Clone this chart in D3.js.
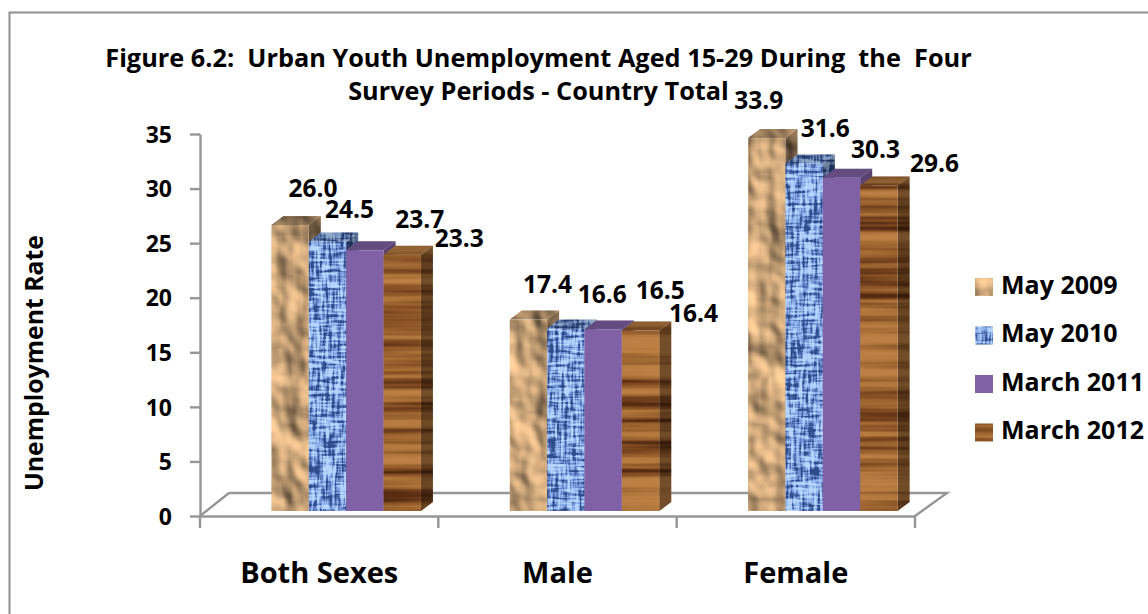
<!DOCTYPE html>
<html>
<head>
<meta charset="utf-8">
<script src="https://cdn.jsdelivr.net/npm/d3@7/dist/d3.min.js"></script>
<style>
html,body{margin:0;padding:0;background:#fff;overflow:hidden}
svg{display:block}
text{font-family:"Open Sans","Noto Sans",sans-serif;font-weight:700;fill:#000;white-space:pre}
</style>
</head>
<body>
<svg id="c" width="1148" height="614"></svg>
<script>
// ---- data ----
const categories = ["Both Sexes", "Male", "Female"];
const seriesNames = ["May 2009", "May 2010", "March 2011", "March 2012"];
const may2009 = [26.0, 17.4, 33.9];
const may2010 = [24.5, 16.6, 31.6];
const march2011 = [23.7, 16.5, 30.3];
const march2012 = [23.3, 16.4, 29.6];
const yTicks = [0, 5, 10, 15, 20, 25, 30, 35];
const titleLines = ["Figure 6.2:  Urban Youth Unemployment Aged 15-29 During  the  Four", "Survey Periods - Country Total"];
const yTitle = "Unemployment Rate";
const seriesValues = [may2009, may2010, march2011, march2012];

// ---- layout ----
const textures = ["paper", "mesh", "flat", "wood"];
// hand-placed data labels in the original: offset from bar centre / front top
const labelDx = [[23,22,55,57],[19,36.5,57,53],[-8,21,34,55.5]];
const labelDy = [[-28,-23.5,-22,-8],[-26.6,-25,-30.5,-8.6],[-29,-26,-20,-13]];
const depthX = 12, depthY = 9;

const svg = d3.select("#c");
const defs = svg.append("defs");

function baseFilter(id){
  return defs.append("filter").attr("id", id)
    .attr("x", 0).attr("y", 0).attr("width", "100%").attr("height", "100%")
    .attr("color-interpolation-filters", "sRGB");
}
// crumpled paper
{
  const f = baseFilter("paper");
  f.append("feTurbulence").attr("type","fractalNoise").attr("baseFrequency","0.024 0.02")
    .attr("numOctaves",3).attr("seed",23).attr("result","n");
  const l = f.append("feDiffuseLighting").attr("in","n").attr("surfaceScale",8)
    .attr("diffuseConstant",1.2).attr("lighting-color","#dfb585").attr("result","l");
  l.append("feDistantLight").attr("azimuth",135).attr("elevation",50);
  f.append("feComposite").attr("in","l").attr("in2","SourceAlpha").attr("operator","in");
}
// blue woven mesh: horizontal and vertical threads laid over each other
{
  const f = baseFilter("mesh");
  f.append("feTurbulence").attr("type","fractalNoise").attr("baseFrequency","0.05 0.34")
    .attr("numOctaves",2).attr("seed",4).attr("result","h");
  f.append("feTurbulence").attr("type","fractalNoise").attr("baseFrequency","0.34 0.05")
    .attr("numOctaves",2).attr("seed",9).attr("result","v");
  f.append("feComposite").attr("in","h").attr("in2","v").attr("operator","arithmetic")
    .attr("k1",0).attr("k2",0.5).attr("k3",0.5).attr("k4",0);
  f.append("feColorMatrix").attr("type","matrix")
    .attr("values","4.2 0 0 0 -1.6  4.2 0 0 0 -1.6  4.2 0 0 0 -1.6  0 0 0 0 1");
  const t = f.append("feComponentTransfer").attr("result","c");
  t.append("feFuncR").attr("type","table").attr("tableValues","0.18 0.34 0.50 0.62 0.72");
  t.append("feFuncG").attr("type","table").attr("tableValues","0.30 0.46 0.63 0.76 0.84");
  t.append("feFuncB").attr("type","table").attr("tableValues","0.54 0.72 0.88 0.96 1.0");
  f.append("feComposite").attr("in","c").attr("in2","SourceAlpha").attr("operator","in");
}
// wood grain
{
  const f = baseFilter("wood");
  f.append("feTurbulence").attr("type","fractalNoise").attr("baseFrequency","0.002 0.09")
    .attr("numOctaves",3).attr("seed",11);
  f.append("feColorMatrix").attr("type","matrix")
    .attr("values","2.2 0 0 0 -0.6  2.2 0 0 0 -0.6  2.2 0 0 0 -0.6  0 0 0 0 1");
  const t = f.append("feComponentTransfer").attr("result","c");
  t.append("feFuncR").attr("type","table").attr("tableValues","0.34 0.50 0.60 0.70 0.74");
  t.append("feFuncG").attr("type","table").attr("tableValues","0.17 0.29 0.38 0.47 0.50");
  t.append("feFuncB").attr("type","table").attr("tableValues","0.07 0.13 0.18 0.24 0.27");
  f.append("feComposite").attr("in","c").attr("in2","SourceAlpha").attr("operator","in");
}

// outer frame (runs off the picture to the right and bottom)
svg.append("path").attr("d", d3.line()([[1148,12.5],[9.5,12.5],[9.5,614]]))
  .attr("fill","none").attr("stroke","#8f8f8f").attr("stroke-width",2);

// ---- scales ----
const yAxisScale = d3.scaleLinear().domain([0,35]).range([516,134]);
const yBar = d3.scaleLinear().domain([0,35]).range([511,126]);
const xCat = d3.scaleBand().domain(categories).range([200,915]);
const xBarGroup = d3.scaleBand().domain(categories).range([227,942]);
const xSeries = d3.scaleBand().domain(seriesNames).range([0,149.5]);
const groupInset = (xBarGroup.bandwidth() - xSeries.range()[1]) / 2;
const axisColor = "#969696";

// floor
const floorD = 23, floorL = 29, floorR = 32;
const y0 = yAxisScale(0);
svg.append("path")
  .attr("d", d3.line()([[xCat.range()[0],y0],[xCat.range()[0]+floorL,y0-floorD],[xCat.range()[1]+floorR,y0-floorD],[xCat.range()[1],y0]]))
  .attr("fill","none").attr("stroke",axisColor).attr("stroke-width",2.4);

// y axis
const gy = svg.append("g").attr("transform","translate(200,0)")
  .call(d3.axisLeft(yAxisScale).tickValues(yTicks).tickSize(10).tickPadding(18).tickSizeOuter(0));
gy.attr("font-family",null);
gy.selectAll("path,line").attr("stroke",axisColor).attr("stroke-width",2.4);
gy.selectAll("text").attr("font-size",23).attr("dy","0.36em");

// x axis
const gx = svg.append("g").attr("transform",`translate(0,${y0})`)
  .call(d3.axisBottom(xCat).tickSize(0).tickSizeOuter(0).tickPadding(57));
gx.attr("font-family",null);
gx.select("path").attr("stroke",axisColor).attr("stroke-width",2.4);
gx.selectAll("text").attr("font-size",29).attr("dy","0.36em").attr("dx",0);
const edges = xCat.domain().map(c => xCat(c)).concat([xCat.range()[1]]);
gx.selectAll("line.edge").data(edges).join("line").attr("class","edge")
  .attr("x1",d=>d).attr("x2",d=>d).attr("y1",0).attr("y2",12)
  .attr("stroke",axisColor).attr("stroke-width",2.4);

// ---- bars ----
function fillFor(s){ return textures[s]==="flat" ? "#8161a5" : "#999"; }
function filterFor(s){ return textures[s]==="flat" ? null : `url(#${textures[s]})`; }

const faces = svg.append("g");
categories.forEach((cat, c) => {
  seriesNames.forEach((name, s) => {
    const v = seriesValues[s][c];
    const x = xBarGroup(cat) + groupInset + xSeries(name);
    const w = xSeries.bandwidth();
    const top = yBar(v), base = yBar(0);
    const g = faces.append("g");
    const topPts = [[x,top],[x+depthX,top-depthY],[x+w+depthX,top-depthY],[x+w,top]];
    const sidePts = [[x+w,top],[x+w+depthX,top-depthY],[x+w+depthX,base-depthY],[x+w,base]];
    const line = d3.line().curve(d3.curveLinearClosed);
    // right face
    g.append("path").attr("d",line(sidePts)).attr("fill",fillFor(s)).attr("filter",filterFor(s));
    g.append("path").attr("d",line(sidePts)).attr("fill","#000").attr("opacity",textures[s]==="flat"?0.3:0.38);
    // top face
    g.append("path").attr("d",line(topPts)).attr("fill",fillFor(s)).attr("filter",filterFor(s));
    g.append("path").attr("d",line(topPts)).attr("fill","#000").attr("opacity",0.22);
    // front face
    g.append("rect").attr("x",x).attr("y",top).attr("width",w).attr("height",base-top)
      .attr("fill",fillFor(s)).attr("filter",filterFor(s));
  });
});

// data labels
categories.forEach((cat, c) => {
  seriesNames.forEach((name, s) => {
    const v = seriesValues[s][c];
    const cx = xBarGroup(cat) + groupInset + xSeries(name) + xSeries.bandwidth()/2;
    svg.append("text").attr("x",cx+labelDx[c][s]).attr("y",yBar(v)+labelDy[c][s])
      .attr("text-anchor","middle").attr("font-size",24.5).text(v.toFixed(1));
  });
});

// title
svg.selectAll("text.title").data(titleLines).join("text").attr("class","title")
  .attr("x",538.5).attr("y",(d,i)=>67+i*33).attr("text-anchor","middle").attr("font-size",25.3).text(d=>d);

// y title
svg.append("text").attr("transform","translate(34,363) rotate(-90)")
  .attr("text-anchor","middle").attr("dy","0.36em").attr("font-size",24.8).text(yTitle);

// legend
const legendY = d3.scalePoint().domain(seriesNames).range([287,432.5]);
const lg = svg.append("g");
seriesNames.forEach((name,s)=>{
  const yy = legendY(name);
  lg.append("rect").attr("x",975).attr("y",yy-9).attr("width",18).attr("height",18)
    .attr("fill",fillFor(s)).attr("filter",filterFor(s));
  lg.append("text").attr("x",1001).attr("y",yy+6.5).attr("font-size",25).text(name);
});
</script>
</body>
</html>
